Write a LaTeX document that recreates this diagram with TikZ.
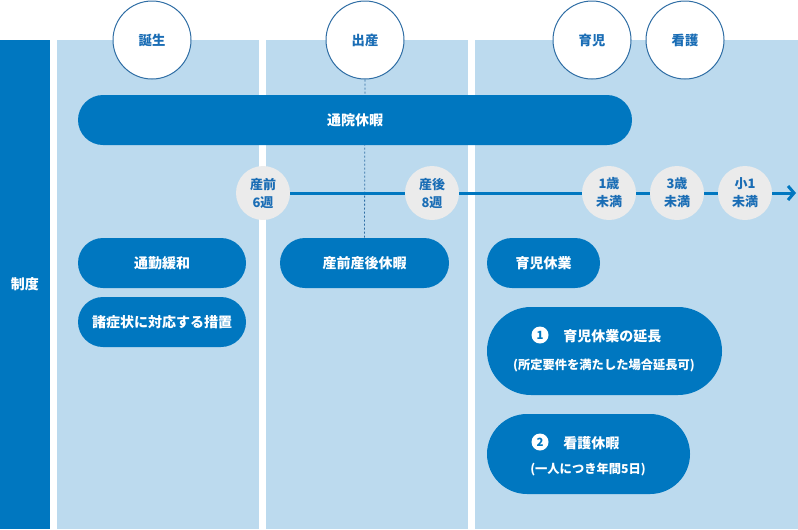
\documentclass[tikz,border=0pt]{standalone}
\usepackage{fontspec}
\setmainfont{Noto Sans CJK JP}
\usetikzlibrary{arrows.meta}
\definecolor{mainblue}{HTML}{0077C0}
\definecolor{lightblue}{HTML}{BCDAEE}
\definecolor{ringblue}{HTML}{2E6DA4}
\definecolor{labelblue}{HTML}{1A6DB5}
\definecolor{softgray}{HTML}{EBEBEB}
\begin{document}
\begin{tikzpicture}[x=0.75pt,y=-0.75pt,
  stage/.style={circle, draw=ringblue, line width=0.75pt, fill=white, minimum size=58.5pt, inner sep=0pt, text=labelblue, font=\bfseries\fontsize{10}{12}\selectfont},
  tpoint/.style={circle, fill=softgray, minimum size=40.5pt, inner sep=0pt, text=labelblue, align=center, font=\bfseries\fontsize{9.75}{13.5}\selectfont},
  pill/.style={fill=mainblue, text=white, rounded corners=18.75pt, minimum height=37.5pt, inner sep=0pt, font=\bfseries\fontsize{10.5}{13}\selectfont},
  whitetext/.style={text=white, inner sep=0pt, font=\bfseries\fontsize{10.5}{13}\selectfont},
  subtext/.style={text=white, inner sep=0pt, font=\bfseries\fontsize{9.2}{12}\selectfont},
  numdot/.style={circle, fill=white, text=mainblue, minimum size=12.75pt, inner sep=0pt, font=\bfseries\fontsize{8.5}{10}\selectfont}
]
\useasboundingbox (0,0) rectangle (798,529);
% columns
\fill[mainblue] (0,40) rectangle (50,529);
\fill[lightblue] (57,40) rectangle (259,529);
\fill[lightblue] (266,40) rectangle (468,529);
\fill[lightblue] (475,40) rectangle (798,529);
\node[whitetext] (seido) at (25,284) {制度};
% stage circles
\node[stage] (tanjo) at (152,40) {誕生};
\node[stage] (shussan) at (365,40) {出産};
\node[stage] (ikuji) at (592,40) {育児};
\node[stage] (kango) at (685,40) {看護};
% boxes
\node[pill, minimum width=126pt] (tsukin) at (162,263) {通勤緩和};
\node[pill, minimum width=126pt] (shojo) at (162,322) {諸症状に対応する措置};
\node[pill, minimum width=126.75pt] (sanzen) at (364.5,263) {産前産後休暇};
\node[pill, minimum width=84.75pt] (ikukyu) at (543.5,263) {育児休業};
\draw[ringblue, line width=0.6pt, dash pattern=on 1.5pt off 1.5pt] (shussan.south) -- (sanzen.north);
\node[pill, minimum width=415.5pt] (tsuin) at (355,120) {通院休暇};
% extended boxes
\node[pill, minimum width=176.25pt, minimum height=66pt, rounded corners=33pt] (encho) at (604.5,351) {};
\node[numdot] (n1) at (540,335) {1};
\node[whitetext, anchor=west] (enchot) at (563,336) {育児休業の延長};
\node[subtext] (enchos) at (604,366) {(所定要件を満たした場合延長可)};
\node[pill, minimum width=152.25pt, minimum height=60pt, rounded corners=30pt] (kangob) at (588.5,454) {};
\node[numdot] (n2) at (540,442) {2};
\node[whitetext, anchor=west] (kangot) at (563,443) {看護休暇};
\node[subtext] (kangos) at (588,469) {(一人につき年間5日)};
% timeline
\coordinate (c1) at (263,193);
\coordinate (c2) at (432,193);
\coordinate (c3) at (609,193);
\coordinate (c4) at (677,193);
\coordinate (c5) at (745,193);
\coordinate (tend) at (796,193);
\draw[mainblue, line width=2.25pt, -{Straight Barb[length=4.5pt, width=10.5pt]}] (c1) -- (tend);
\node[tpoint] (p1) at (c1) {産前\\6週};
\node[tpoint] (p2) at (c2) {産後\\8週};
\node[tpoint] (p3) at (c3) {1歳\\未満};
\node[tpoint] (p4) at (c4) {3歳\\未満};
\node[tpoint] (p5) at (c5) {小1\\未満};
\end{tikzpicture}
\end{document}
